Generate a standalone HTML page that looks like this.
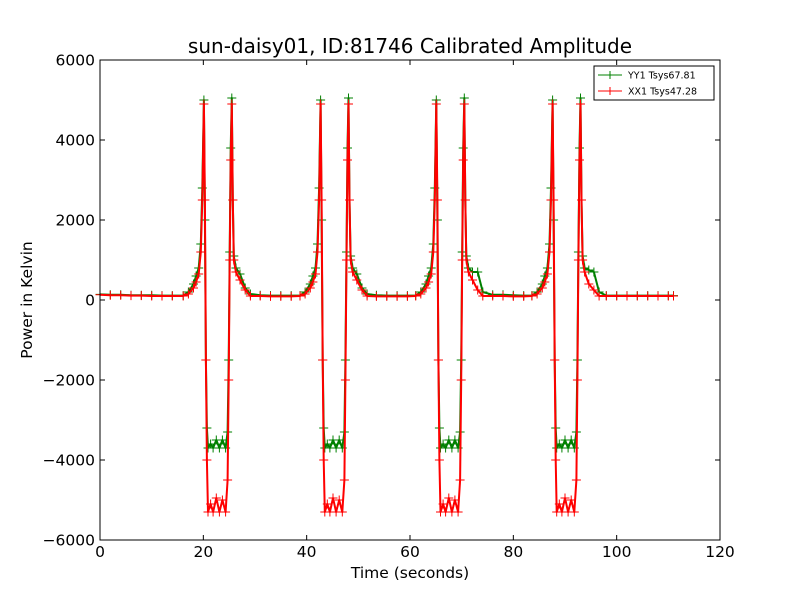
<!DOCTYPE html>
<html><head><meta charset="utf-8"><style>
html,body{margin:0;padding:0;background:#fff}
svg{display:block;font-family:"DejaVu Sans","Liberation Sans",sans-serif}
</style></head><body>
<svg id="chart" width="800" height="600" viewBox="0 0 800 600">
<rect width="800" height="600" fill="#fff"/>
<text x="410" y="53" font-size="20" text-anchor="middle">sun-daisy01, ID:81746 Calibrated Amplitude</text>
<g id="plot"></g>
<g id="axes"></g>
<text x="410" y="578" font-size="15.5" text-anchor="middle">Time (seconds)</text>
<text x="32" y="300" font-size="15.5" text-anchor="middle" transform="rotate(-90 32 300)">Power in Kelvin</text>
<g>
<rect x="594" y="66" width="120" height="34" fill="#fff" stroke="#000" stroke-width="1"/>
<g>
<line x1="598" y1="75" x2="622" y2="75" stroke="green"/><path d="M606,75h8M610,71v8" stroke="green"/>
<text x="628" y="78.5" font-size="9.5">YY1 Tsys67.81</text></g>
<g>
<line x1="598" y1="91" x2="622" y2="91" stroke="red"/><path d="M606,91h8M610,87v8" stroke="red"/>
<text x="628" y="94.5" font-size="9.5">XX1 Tsys47.28</text></g>
</g>
</svg>
<script>
const xTicks=[0,20,40,60,80,100,120];
const yTicks=[-6000,-4000,-2000,0,2000,4000,6000];
const times=[0,2,4,6,8,10,12,14,
16.1,17.1,18.1,18.6,19.1,19.5,19.8,20.1,20.3,20.5,20.7,20.9,21.4,21.9,22.5,23.1,23.7,24.3,24.7,24.9,25.1,25.3,25.5,25.7,25.9,26.3,27.1,28.1,29.1,
31,33,35,37,
38.7,39.7,40.7,41.2,41.7,42.1,42.4,42.7,42.9,43.1,43.3,43.5,44.0,44.5,45.1,45.7,46.3,46.9,47.3,47.5,47.7,47.9,48.1,48.3,48.5,48.9,49.7,50.7,51.7,
53.5,55.5,57.5,59.5,
61.1,62.1,63.1,63.6,64.1,64.5,64.8,65.1,65.3,65.5,65.7,65.9,66.4,66.9,67.5,68.1,68.7,69.3,69.7,69.9,70.1,70.3,70.5,70.7,70.9,71.3,72.1,73.1,74.1,
76,78,80,82,
83.6,84.6,85.6,86.1,86.6,87.0,87.3,87.6,87.8,88.0,88.2,88.4,88.9,89.4,90.0,90.6,91.2,91.8,92.2,92.4,92.6,92.8,93.0,93.2,93.4,93.8,94.6,95.6,96.6,
98,100,102,104,106,108,110,111];
const yy1=[140,130,130,120,120,120,110,110,
110,200,400,600,800,1400,2800,5000,2000,-1500,-3200,-3700,-3600,-3700,-3500,-3700,-3500,-3700,-3300,-1500,1200,3800,5050,2500,1100,800,650,300,150,
120,110,110,110,
110,200,400,600,800,1400,2800,5000,2000,-1500,-3200,-3700,-3600,-3700,-3500,-3700,-3500,-3700,-3300,-1500,1200,3800,5050,2500,1100,800,650,300,150,
120,110,110,110,
110,200,400,600,800,1400,2800,5000,2000,-1500,-3200,-3700,-3600,-3700,-3500,-3700,-3500,-3700,-3300,-1500,1200,3800,5050,2500,1100,800,700,700,200,
130,130,120,110,
110,200,400,600,800,1400,2800,5000,2000,-1500,-3200,-3700,-3600,-3700,-3500,-3700,-3500,-3700,-3300,-1500,1200,3800,5050,2500,1100,800,750,700,200,
110,110,110,110,110,110,110,110];
const xx1=[130,120,120,110,110,100,100,100,
100,150,300,450,650,1200,2500,4900,2500,-1500,-4000,-5300,-5100,-5300,-4950,-5300,-5000,-5300,-4500,-2000,1000,3500,4900,2500,1000,700,500,250,100,
100,90,90,90,
100,150,300,450,650,1200,2500,4900,2500,-1500,-4000,-5300,-5100,-5300,-4950,-5300,-5000,-5300,-4500,-2000,1000,3500,4900,2500,1000,700,500,250,100,
90,90,90,90,
100,150,300,450,650,1200,2500,4900,2500,-1500,-4000,-5300,-5100,-5300,-4950,-5300,-5000,-5300,-4500,-2000,1000,3500,4900,2500,1000,700,500,250,100,
100,100,90,90,
100,150,300,450,650,1200,2500,4900,2500,-1500,-4000,-5300,-5100,-5300,-4950,-5300,-5000,-5300,-4500,-2000,1000,3500,4900,2500,1000,700,400,250,100,
100,100,100,100,100,100,100,100];
const X0=100,X1=720,Y0=60,Y1=540;
function sx(t){return X0+(t-0)/(120-0)*(X1-X0);}
function sy(v){return Y0+(6000-v)/(12000)*(Y1-Y0);}
const NS="http://www.w3.org/2000/svg";
const plot=document.getElementById('plot');
const axes=document.getElementById('axes');
function drawSeries(vals,color,name){
  const g=document.createElementNS(NS,'g');
  
  
  let d='';
  for(let i=0;i<times.length;i++){d+=(i?'L':'M')+sx(times[i]).toFixed(1)+','+sy(vals[i]).toFixed(1);}
  const p=document.createElementNS(NS,'path');
  
  
  p.setAttribute('d',d);p.setAttribute('fill','none');p.setAttribute('stroke',color);p.setAttribute('stroke-width','2');p.setAttribute('stroke-linejoin','round');
  g.appendChild(p);
  let m='';
  for(let i=0;i<times.length;i++){const x=sx(times[i]),y=sy(vals[i]);m+='M'+(x-4.5).toFixed(1)+','+y.toFixed(1)+'h9M'+x.toFixed(1)+','+(y-4.5).toFixed(1)+'v9';}
  const mk=document.createElementNS(NS,'path');
  
  
  mk.setAttribute('d',m);mk.setAttribute('stroke',color);mk.setAttribute('stroke-width','1');
  g.appendChild(mk);
  plot.appendChild(g);
}
drawSeries(yy1,'green','series-yy1');
drawSeries(xx1,'red','series-xx1');
const frame=document.createElementNS(NS,'rect');


frame.setAttribute('x',X0);frame.setAttribute('y',Y0);frame.setAttribute('width',X1-X0);frame.setAttribute('height',Y1-Y0);
frame.setAttribute('fill','none');frame.setAttribute('stroke','#000');
axes.appendChild(frame);
xTicks.forEach(t=>{
  const x=sx(t);
  const l=document.createElementNS(NS,'path');
  
  
  l.setAttribute('d','M'+x+','+Y1+'v-5M'+x+','+Y0+'v5');l.setAttribute('stroke','#000');
  axes.appendChild(l);
  const tx=document.createElementNS(NS,'text');
  
  
  tx.setAttribute('x',x);tx.setAttribute('y',Y1+17);tx.setAttribute('font-size','15.5');tx.setAttribute('text-anchor','middle');
  tx.textContent=t;axes.appendChild(tx);
});
yTicks.forEach(v=>{
  const y=sy(v);
  const l=document.createElementNS(NS,'path');
  
  
  l.setAttribute('d','M'+X0+','+y+'h5M'+X1+','+y+'h-5');l.setAttribute('stroke','#000');
  axes.appendChild(l);
  const tx=document.createElementNS(NS,'text');
  
  
  tx.setAttribute('x',X0-5);tx.setAttribute('y',y+5.5);tx.setAttribute('font-size','15.5');tx.setAttribute('text-anchor','end');
  tx.textContent=(v<0?'\u2212'+(-v):v);axes.appendChild(tx);
});
</script>
</body></html>
